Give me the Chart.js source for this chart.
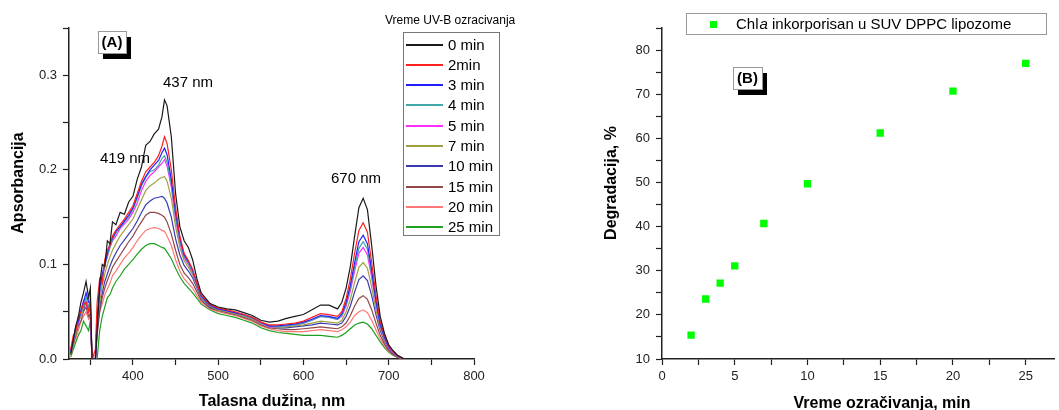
<!DOCTYPE html>
<html>
<head>
<meta charset="utf-8">
<title>UV-B degradacija Chl a</title>
<script src="https://cdn.jsdelivr.net/npm/chart.js@4.4.1/dist/chart.umd.min.js"></script>
<style>
  html, body { margin: 0; padding: 0; background: #fff; overflow: hidden; }
  #chartA { position: absolute; left: 0; top: 0; }
  #chartB { position: absolute; left: 540px; top: 0; }
</style>
</head>
<body>
<canvas id="chartA" width="540" height="410"></canvas>
<canvas id="chartB" width="520" height="410"></canvas>
<script>
// panel A - apsorpcioni spektri posle UV-B ozracivanja
let wavelengths = [
  327, 330, 333, 336, 339, 342, 345, 348, 350, 352,
  356, 358, 361, 364, 367, 370, 373, 376, 380, 385,
  390, 395, 400, 405, 410, 415, 420, 425, 430, 434,
  437, 440, 445, 450, 455, 460, 465, 470, 475, 480,
  490, 500, 510, 520, 530, 540, 550, 560, 570, 580,
  590, 600, 610, 620, 630, 640, 645, 650, 655, 660,
  665, 670, 675, 680, 685, 690, 695, 700, 705, 710, 718
];

let abs0min = [
  0.005, 0.02, 0.035, 0.045, 0.06, 0.07, 0.082, 0.065, 0.075, 0,
  0, 0.03, 0.08, 0.1, 0.098, 0.125, 0.122, 0.145, 0.142, 0.155,
  0.153, 0.166, 0.172, 0.19, 0.203, 0.226, 0.23, 0.238, 0.243, 0.256,
  0.274, 0.268, 0.235, 0.175, 0.14, 0.125, 0.118, 0.105, 0.085, 0.07,
  0.059, 0.055, 0.053, 0.052, 0.049, 0.046, 0.041, 0.039, 0.04, 0.043,
  0.045, 0.047, 0.052, 0.057, 0.057, 0.053, 0.06, 0.075, 0.098, 0.13,
  0.16, 0.17, 0.158, 0.12, 0.078, 0.045, 0.027, 0.015, 0.009, 0.004, 0
];
let abs2min = [
  0.01, 0.025, 0.03, 0.045, 0.05, 0.058, 0.06, 0.05, 0.065, 0,
  0.01, 0.06, 0.085, 0.08, 0.105, 0.115, 0.12, 0.13, 0.136, 0.142,
  0.148, 0.155, 0.162, 0.175, 0.188, 0.198, 0.203, 0.208, 0.215, 0.225,
  0.235, 0.228, 0.2, 0.16, 0.13, 0.112, 0.104, 0.095, 0.08, 0.068,
  0.058, 0.054, 0.052, 0.05, 0.047, 0.044, 0.039, 0.036, 0.036, 0.037,
  0.038, 0.04, 0.044, 0.048, 0.047, 0.045, 0.05, 0.064, 0.085, 0.112,
  0.136, 0.144, 0.134, 0.102, 0.067, 0.04, 0.025, 0.014, 0.008, 0.004, 0
];
let abs3min = [
  0.008, 0.02, 0.035, 0.04, 0.052, 0.06, 0.07, 0.06, 0.058, 0,
  0, 0.045, 0.075, 0.09, 0.1, 0.112, 0.122, 0.128, 0.135, 0.14,
  0.146, 0.152, 0.16, 0.172, 0.185, 0.193, 0.2, 0.205, 0.21, 0.218,
  0.223, 0.216, 0.19, 0.155, 0.128, 0.11, 0.103, 0.094, 0.08, 0.067,
  0.057, 0.053, 0.051, 0.049, 0.047, 0.044, 0.039, 0.035, 0.035, 0.036,
  0.037, 0.039, 0.042, 0.046, 0.045, 0.043, 0.048, 0.06, 0.078, 0.102,
  0.124, 0.131, 0.122, 0.094, 0.062, 0.037, 0.023, 0.013, 0.008, 0.004, 0
];
let abs4min = [
  0.006, 0.018, 0.03, 0.042, 0.048, 0.055, 0.065, 0.055, 0.06, 0,
  0, 0.04, 0.07, 0.088, 0.098, 0.11, 0.118, 0.126, 0.133, 0.139,
  0.145, 0.15, 0.158, 0.17, 0.183, 0.192, 0.198, 0.2, 0.205, 0.212,
  0.215, 0.208, 0.185, 0.15, 0.125, 0.108, 0.101, 0.092, 0.079, 0.066,
  0.057, 0.053, 0.051, 0.049, 0.046, 0.043, 0.038, 0.035, 0.034, 0.035,
  0.036, 0.038, 0.041, 0.045, 0.044, 0.042, 0.046, 0.058, 0.075, 0.097,
  0.117, 0.124, 0.116, 0.09, 0.06, 0.036, 0.022, 0.013, 0.008, 0.004, 0
];
let abs5min = [
  0.01, 0.022, 0.032, 0.038, 0.05, 0.062, 0.058, 0.05, 0.055, 0,
  0, 0.04, 0.068, 0.085, 0.1, 0.108, 0.118, 0.125, 0.13, 0.138,
  0.143, 0.148, 0.155, 0.165, 0.178, 0.188, 0.194, 0.198, 0.203, 0.207,
  0.211, 0.204, 0.182, 0.148, 0.123, 0.107, 0.1, 0.091, 0.078, 0.066,
  0.057, 0.053, 0.051, 0.049, 0.046, 0.043, 0.038, 0.034, 0.034, 0.035,
  0.036, 0.038, 0.041, 0.045, 0.044, 0.042, 0.045, 0.056, 0.072, 0.093,
  0.112, 0.118, 0.11, 0.086, 0.058, 0.035, 0.021, 0.012, 0.007, 0.003, 0
];
let abs7min = [
  0.005, 0.018, 0.028, 0.04, 0.045, 0.055, 0.06, 0.05, 0.052, 0,
  0, 0.035, 0.06, 0.078, 0.09, 0.1, 0.108, 0.115, 0.122, 0.13,
  0.136, 0.142, 0.148, 0.158, 0.168, 0.178, 0.183, 0.186, 0.19, 0.192,
  0.193, 0.188, 0.17, 0.14, 0.118, 0.104, 0.097, 0.089, 0.077, 0.065,
  0.056, 0.052, 0.05, 0.048, 0.045, 0.042, 0.037, 0.034, 0.033, 0.034,
  0.035, 0.036, 0.038, 0.04, 0.039, 0.038, 0.041, 0.05, 0.063, 0.081,
  0.097, 0.102, 0.096, 0.076, 0.052, 0.032, 0.02, 0.012, 0.007, 0.003, 0
];
let abs10min = [
  0.008, 0.02, 0.03, 0.038, 0.048, 0.052, 0.06, 0.052, 0.05, 0,
  0, 0.03, 0.055, 0.07, 0.082, 0.09, 0.098, 0.105, 0.112, 0.12,
  0.126, 0.132, 0.138, 0.146, 0.155, 0.163, 0.167, 0.17, 0.171, 0.172,
  0.17, 0.165, 0.15, 0.127, 0.11, 0.099, 0.093, 0.086, 0.075, 0.064,
  0.055, 0.052, 0.05, 0.048, 0.045, 0.042, 0.037, 0.034, 0.033, 0.033,
  0.034, 0.035, 0.036, 0.038, 0.037, 0.036, 0.038, 0.045, 0.056, 0.071,
  0.084, 0.088, 0.083, 0.067, 0.047, 0.03, 0.019, 0.011, 0.006, 0.003, 0
];
let abs15min = [
  0.005, 0.015, 0.025, 0.035, 0.04, 0.05, 0.055, 0.045, 0.048, 0,
  0, 0.025, 0.05, 0.065, 0.075, 0.083, 0.09, 0.097, 0.103, 0.11,
  0.117, 0.124, 0.13, 0.138, 0.145, 0.152, 0.155, 0.155, 0.154, 0.152,
  0.15, 0.145, 0.132, 0.115, 0.1, 0.091, 0.086, 0.08, 0.071, 0.062,
  0.054, 0.051, 0.049, 0.047, 0.044, 0.041, 0.036, 0.033, 0.032, 0.031,
  0.031, 0.032, 0.033, 0.034, 0.033, 0.032, 0.034, 0.038, 0.046, 0.056,
  0.064, 0.067, 0.063, 0.052, 0.038, 0.025, 0.016, 0.009, 0.005, 0.002, 0
];
let abs20min = [
  0.004, 0.015, 0.022, 0.03, 0.04, 0.045, 0.05, 0.042, 0.045, 0,
  0.005, 0.04, 0.05, 0.058, 0.068, 0.074, 0.08, 0.088, 0.093, 0.1,
  0.107, 0.112, 0.118, 0.125, 0.131, 0.136, 0.138, 0.139, 0.138, 0.136,
  0.135, 0.13, 0.12, 0.105, 0.093, 0.085, 0.08, 0.075, 0.067, 0.06,
  0.053, 0.05, 0.048, 0.046, 0.043, 0.04, 0.035, 0.032, 0.03, 0.029,
  0.029, 0.029, 0.03, 0.031, 0.03, 0.029, 0.031, 0.034, 0.039, 0.046,
  0.05, 0.052, 0.049, 0.041, 0.031, 0.021, 0.014, 0.008, 0.005, 0.002, 0
];
let abs25min = [
  0.002, 0.01, 0.018, 0.025, 0.03, 0.04, 0.035, 0.03, 0.04, 0,
  0, 0, 0.03, 0.045, 0.055, 0.065, 0.068, 0.075, 0.082, 0.088,
  0.095, 0.1, 0.105, 0.111, 0.116, 0.12, 0.122, 0.122, 0.12, 0.118,
  0.117, 0.113, 0.106, 0.096, 0.087, 0.08, 0.075, 0.07, 0.064, 0.058,
  0.052, 0.048, 0.046, 0.044, 0.041, 0.038, 0.033, 0.03, 0.028, 0.027,
  0.026, 0.025, 0.025, 0.025, 0.024, 0.023, 0.025, 0.028, 0.032, 0.036,
  0.038, 0.039, 0.037, 0.032, 0.025, 0.018, 0.012, 0.007, 0.004, 0.002, 0
];

let seriesLabels = ['0 min', '2min', '3 min', '4 min', '5 min', '7 min', '10 min', '15 min', '20 min', '25 min'];
let seriesValues = [abs0min, abs2min, abs3min, abs4min, abs5min, abs7min, abs10min, abs15min, abs20min, abs25min];

let xTicksA = [350, 400, 450, 500, 550, 600, 650, 700, 750, 800];
let yTicksA = [0, 0.05, 0.1, 0.15, 0.2, 0.25, 0.3, 0.35];

// panel B - degradacija u vremenu
let times = [2, 3, 4, 5, 7, 10, 15, 20, 25];
let degradation = [15.4, 23.6, 27.2, 31.1, 40.7, 49.7, 61.2, 70.7, 77.0];

let xTicksB = [0, 2.5, 5, 7.5, 10, 12.5, 15, 17.5, 20, 22.5, 25];
let yTicksB = [10, 15, 20, 25, 30, 35, 40, 45, 50, 55, 60, 65, 70, 75, 80, 85];

let lineColors = ['#1a1a1a', '#ff2020', '#2020ff', '#40a8a8', '#ff30ff', '#a0a040', '#3a3ab0', '#904848', '#ff7878', '#20a020'];
let fontFamily = '"Liberation Sans", Arial, sans-serif';
let inkColor = '#222';

function axisStyle(ticks, labelFn, padding) {
  return {
    type: 'linear',
    grid: {
      drawOnChartArea: false,
      drawTicks: true,
      tickLength: 6,
      tickColor: inkColor,
      tickWidth: 1.2,
    },
    border: { color: inkColor, width: 1.5 },
    ticks: {
      autoSkip: false,
      maxRotation: 0,
      padding: padding,
      color: inkColor,
      font: { family: fontFamily, size: 13 },
      callback: labelFn,
    },
    afterBuildTicks: (scale) => {
      scale.ticks = ticks.map((v) => ({ value: v }));
    },
  };
}

function drawBox(ctx, label, x, y, w, h) {
  ctx.fillStyle = '#000';
  ctx.fillRect(x + 5, y + 6, w, h);
  ctx.fillStyle = '#fff';
  ctx.fillRect(x, y, w, h);
  ctx.strokeStyle = '#999';
  ctx.lineWidth = 1;
  ctx.strokeRect(x + 0.5, y + 0.5, w, h);
  ctx.fillStyle = '#000';
  ctx.font = `bold 15px ${fontFamily}`;
  ctx.textAlign = 'center';
  ctx.textBaseline = 'middle';
  ctx.fillText(label, x + w / 2, y + h / 2 + 1);
}

function drawVerticalTitle(ctx, text, x, y) {
  ctx.save();
  ctx.translate(x, y);
  ctx.rotate(-Math.PI / 2);
  ctx.fillStyle = '#000';
  ctx.font = `bold 16px ${fontFamily}`;
  ctx.textAlign = 'center';
  ctx.textBaseline = 'middle';
  ctx.fillText(text, 0, 0);
  ctx.restore();
}

let panelAText = {
  id: 'panelAText',
  afterDraw(chart) {
    let ctx = chart.ctx;
    ctx.save();
    drawVerticalTitle(ctx, 'Apsorbancija', 19, 183);

    ctx.fillStyle = '#000';
    ctx.font = `bold 16px ${fontFamily}`;
    ctx.textAlign = 'center';
    ctx.textBaseline = 'middle';
    ctx.fillText('Talasna dužina, nm', 272, 402);

    ctx.font = `15px ${fontFamily}`;
    ctx.fillText('437 nm', 188, 83);
    ctx.fillText('419 nm', 125, 159);
    ctx.fillText('670 nm', 356, 179);

    drawBox(ctx, '(A)', 98, 31, 28, 22);

    // legenda
    ctx.font = `12px ${fontFamily}`;
    ctx.textAlign = 'left';
    ctx.fillText('Vreme UV-B ozracivanja', 385, 21);

    ctx.strokeStyle = '#777';
    ctx.lineWidth = 1;
    ctx.strokeRect(403.5, 32.5, 96, 203);
    ctx.font = `15px ${fontFamily}`;
    ctx.lineWidth = 2;
    chart.data.datasets.forEach((ds, i) => {
      let y = Math.round(44.5 + i * 20.3);
      ctx.strokeStyle = ds.borderColor;
      ctx.beginPath();
      ctx.moveTo(406, y);
      ctx.lineTo(443, y);
      ctx.stroke();
      ctx.fillStyle = '#000';
      ctx.fillText(ds.label, 448, y + 1);
    });
    ctx.restore();
  },
};

let panelBText = {
  id: 'panelBText',
  afterDraw(chart) {
    let ctx = chart.ctx;
    ctx.save();
    drawVerticalTitle(ctx, 'Degradacija, %', 72, 183);

    ctx.fillStyle = '#000';
    ctx.font = `bold 16px ${fontFamily}`;
    ctx.textAlign = 'center';
    ctx.textBaseline = 'middle';
    ctx.fillText('Vreme ozračivanja, min', 342, 404);

    drawBox(ctx, '(B)', 193, 67, 29, 22);

    // legenda
    ctx.strokeStyle = '#999';
    ctx.lineWidth = 1;
    ctx.strokeRect(146.5, 13.5, 360, 21);
    ctx.fillStyle = '#00ff00';
    ctx.fillRect(170, 21, 7, 7);

    let x = 196;
    let y = 25;
    ctx.fillStyle = '#000';
    ctx.textAlign = 'left';
    ctx.font = `15px ${fontFamily}`;
    ctx.fillText('Chl', x, y);
    x += ctx.measureText('Chl').width + 1;
    ctx.font = `italic 15px ${fontFamily}`;
    ctx.fillText('a', x, y);
    x += ctx.measureText('a').width;
    ctx.font = `15px ${fontFamily}`;
    ctx.fillText(' inkorporisan u SUV DPPC lipozome', x, y);
    ctx.restore();
  },
};

function renderSpectra() {
  let ctx = document.getElementById('chartA');
  // order: 0 min se crta poslednji, preko ostalih krivih
  let datasets = seriesValues.map((values, i) => ({
    label: seriesLabels[i],
    data: wavelengths.map((w, j) => ({ x: w, y: values[j] })),
    borderColor: lineColors[i],
    borderWidth: 1.2,
    pointRadius: 0,
    tension: 0,
    fill: false,
    order: i,
  }));

  let xAxis = axisStyle(xTicksA, (v) => (v % 100 === 0 ? String(v) : ''), 4);
  xAxis.min = 325;
  xAxis.max = 800;
  xAxis.position = 'bottom';
  xAxis.afterFit = (scale) => { scale.height = 51; };

  let yAxis = axisStyle(yTicksA, (v) => (Math.round(v * 100) % 10 === 0 ? v.toFixed(1) : ''), 6);
  yAxis.min = 0;
  yAxis.max = 0.35;
  yAxis.afterFit = (scale) => { scale.width = 69; };

  new Chart(ctx, {
    type: 'line',
    data: { datasets: datasets },
    options: {
      responsive: false,
      animation: false,
      layout: { padding: { left: 0, top: 28, right: 66, bottom: 0 } },
      plugins: { legend: { display: false }, tooltip: { enabled: false } },
      scales: { x: xAxis, y: yAxis },
    },
    plugins: [panelAText],
  });
}

function renderDegradation() {
  let ctx = document.getElementById('chartB');

  let xAxis = axisStyle(xTicksB, (v) => (v % 5 === 0 ? String(v) : ''), 4);
  xAxis.min = 0;
  xAxis.max = 27;
  xAxis.position = 'bottom';
  xAxis.afterFit = (scale) => { scale.height = 51; };

  let yAxis = axisStyle(yTicksB, (v) => (v % 10 === 0 ? String(v) : ''), 6);
  yAxis.min = 10;
  yAxis.max = 85;
  yAxis.afterFit = (scale) => { scale.width = 122; };

  new Chart(ctx, {
    type: 'scatter',
    data: {
      datasets: [
        {
          label: 'Chl a inkorporisan u SUV DPPC lipozome',
          data: times.map((t, i) => ({ x: t, y: degradation[i] })),
          pointStyle: 'rect',
          pointRadius: 5.2,
          backgroundColor: '#00ff00',
          borderWidth: 0,
        },
      ],
    },
    options: {
      responsive: false,
      animation: false,
      layout: { padding: { left: 0, top: 28, right: 0, bottom: 0 } },
      plugins: { legend: { display: false }, tooltip: { enabled: false } },
      scales: { x: xAxis, y: yAxis },
    },
    plugins: [panelBText],
  });
}

renderSpectra();
renderDegradation();
</script>
</body>
</html>
